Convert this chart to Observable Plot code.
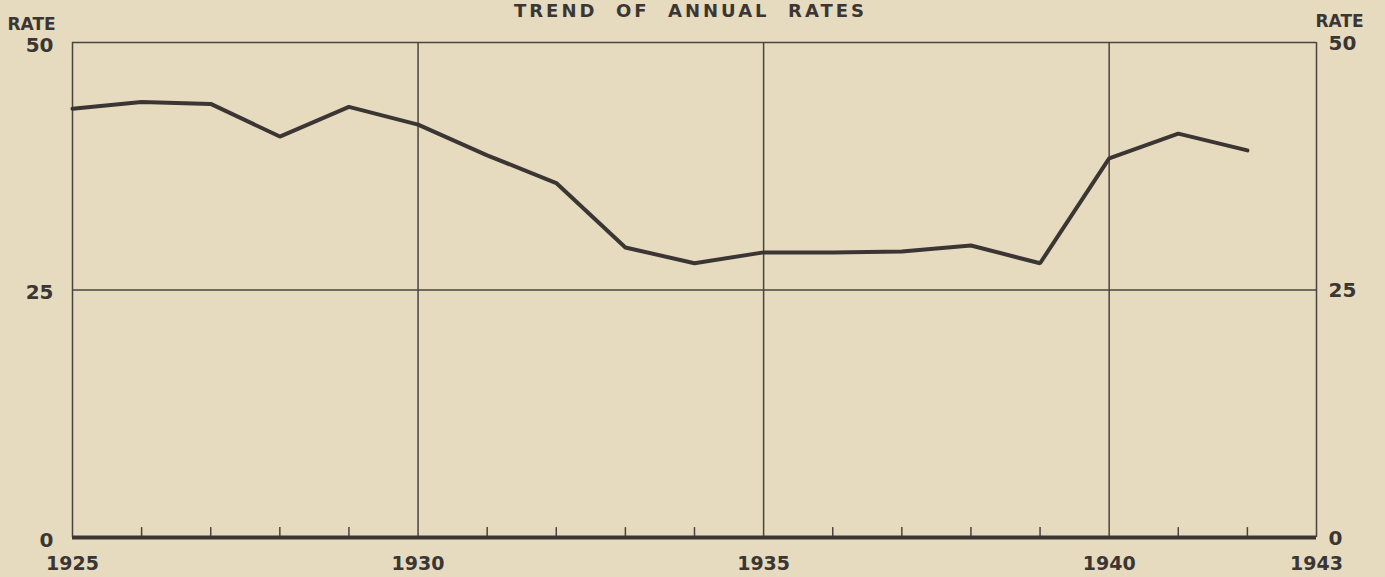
<!DOCTYPE html>
<html>
<head>
<meta charset="utf-8">
<script src="https://cdn.jsdelivr.net/npm/d3@7"></script>
<script src="https://cdn.jsdelivr.net/npm/@observablehq/plot@0.6"></script>
<style>
  html, body { margin: 0; padding: 0; background: #e6dbbf; }
  #chart svg { display: block; }
</style>
</head>
<body>
<div id="chart"></div>
<script>
const years = [1925,1926,1927,1928,1929,1930,1931,1932,1933,1934,1935,1936,1937,1938,1939,1940,1941,1942];
const rates = [43.3,44.0,43.8,40.5,43.5,41.7,38.6,35.8,29.3,27.7,28.8,28.8,28.9,29.5,27.7,38.3,40.8,39.1];
const yTicks = [0, 25, 50];
const xLabels = [1925, 1930, 1935, 1940, 1943];
const majorYears = [1925, 1930, 1935, 1940, 1943];
const minorYears = [1926,1927,1928,1929,1931,1932,1933,1934,1936,1937,1938,1939,1941,1942];
const title = "TREND  OF  ANNUAL  RATES";
const axisLabel = "RATE";

const ink = "#3b3633";
const font = "'DejaVu Sans', Lato, sans-serif";

const data = years.map((y, i) => ({year: y, rate: rates[i]}));

const chart = Plot.plot({
  width: 1385,
  height: 577,
  marginLeft: 72,
  marginRight: 69,
  marginTop: 42,
  marginBottom: 40,
  style: {background: "#e6dbbf", color: ink, fontFamily: font},
  x: {type: "linear", domain: [1925, 1943], axis: null},
  y: {domain: [0, 50], axis: null},
  marks: [
    Plot.ruleX(majorYears, {stroke: "#4a4440", strokeWidth: 1.5}),
    Plot.ruleY([25, 50], {stroke: "#4a4440", strokeWidth: 1.5}),
    Plot.ruleX(minorYears, {y1: 0, y2: 1, stroke: "#4a4440", strokeWidth: 1.5}),
    Plot.ruleY([0], {stroke: ink, strokeWidth: 4}),
    Plot.line(data, {x: "year", y: "rate", stroke: ink, strokeWidth: 4, strokeLinejoin: "miter"}),
    Plot.axisY({anchor: "left", label: null, ticks: yTicks, tickSize: 0, tickPadding: 19, dy: 3, fontSize: 20, fontWeight: 700, tickFormat: d => String(d)}),
    Plot.axisY({anchor: "right", label: null, ticks: yTicks, tickSize: 0, tickPadding: 12, dy: 1, fontSize: 20, fontWeight: 700, tickFormat: d => String(d)}),
    Plot.axisX({anchor: "bottom", label: null, ticks: xLabels, tickSize: 0, tickPadding: 19, fontSize: 19, fontWeight: 700, tickFormat: d => String(d)}),
    Plot.text([axisLabel], {frameAnchor: "top-left", textAnchor: "start", lineAnchor: "bottom", dx: -65, dy: -13, fontSize: 17, fontWeight: 600, fill: ink}),
    Plot.text([axisLabel], {frameAnchor: "top-right", textAnchor: "start", lineAnchor: "bottom", dx: -1, dy: -16, fontSize: 17, fontWeight: 600, fill: ink}),
    Plot.text([title], {frameAnchor: "top", textAnchor: "middle", lineAnchor: "bottom", dx: -4, dy: -26, fontSize: 18, fontWeight: 700, fill: ink})
  ]
});

d3.select(chart).selectAll("text").filter(function() { return this.textContent.startsWith("TREND"); })
  .attr("letter-spacing", "3px");

document.getElementById("chart").appendChild(chart);
</script>
</body>
</html>
